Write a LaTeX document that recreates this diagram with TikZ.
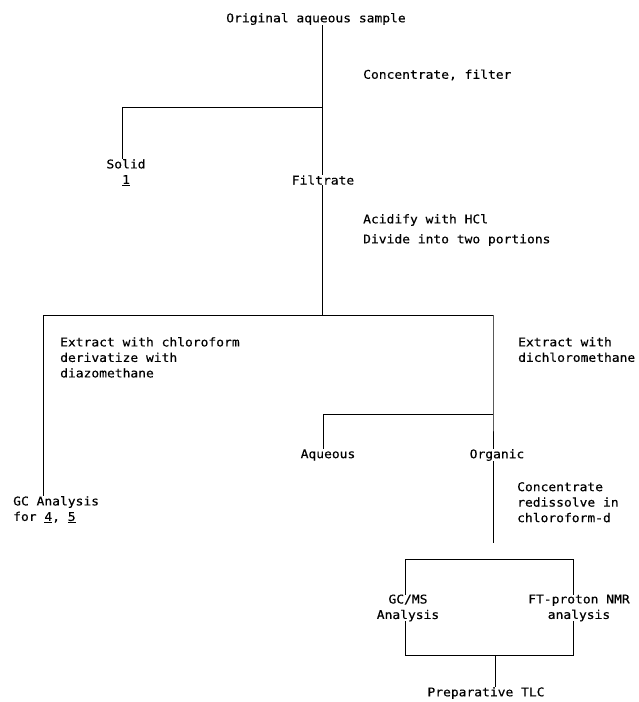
\documentclass[tikz,border=0pt]{standalone}
\usepackage{fontspec}
\newfontfamily\mono[FakeStretch=1.08,FakeBold=0.4]{DejaVu Sans Mono}
\begin{document}
\begin{tikzpicture}[x=1pt,y=-1pt,
  lbl/.style={inner sep=0pt, font=\mono\fontsize{12}{15.5}\selectfont, align=left},
  ln/.style={line width=1pt}]
\useasboundingbox (0,0) rectangle (638,702);
\node[lbl] (orig) at (316,19) {Original aqueous sample};
\node[lbl,anchor=west] (t1) at (363,75) {Concentrate, filter};
\coordinate (j1) at (322,107);
\coordinate (j1l) at (122,107);
\node[lbl,align=center,anchor=north] (solid) at (126,159) {Solid\\\underline{1}};
\node[lbl] (filt) at (323,180) {Filtrate};
\node[lbl,anchor=west] (t2) at (363,220) {Acidify with HCl};
\node[lbl,anchor=west] (t3) at (363,240) {Divide into two portions};
\coordinate (j2) at (322,315);
\coordinate (j2l) at (43,315);
\coordinate (j2r) at (493,315);
\node[lbl,anchor=north west] (t4) at (60,337) {Extract with chloroform\\derivatize with\\diazomethane};
\node[lbl,anchor=north west] (t5) at (518,337) {Extract with\\dichloromethane};
\node[lbl,anchor=north west] (gc) at (13,496) {GC Analysis\\for \underline{4}, \underline{5}};
\coordinate (j3) at (493,414);
\coordinate (j3l) at (323,414);
\node[lbl] (aq) at (328,455) {Aqueous};
\node[lbl] (org) at (497,455) {Organic};
\node[lbl,anchor=north west] (t6) at (517,482) {Concentrate\\redissolve in\\chloroform-d};
\coordinate (c4) at (493,543);
\coordinate (bnw) at (405,559);
\coordinate (bse) at (573,655);
\coordinate (bb) at (495,655);
\draw[ln] (bnw) rectangle (bse);
\node[lbl,align=center,fill=white] (gcms) at (408,608) {GC/MS\\Analysis};
\node[lbl,align=center,fill=white] (ft) at (579,608) {FT-proton NMR\\analysis};
\node[lbl] (tlc) at (486,693) {Preparative TLC};
\draw[ln] (orig.south -| j1) -- (filt.north -| j1);
\draw[ln] (j1) -- (j1l) -- (solid.north -| j1l);
\draw[ln] (filt.south -| j2) -- (j2);
\draw[ln] (j2l) -- (j2r);
\draw[ln] (j2l) -- (gc.north -| j2l);
\draw[ln] (j2r) -- (j3) -- (org.north -| j3);
\draw[ln] (j3) -- (j3l) -- (aq.north -| j3l);
\draw[ln] (org.south -| j3) -- (c4);
\draw[ln] (bb) -- (tlc.north -| bb);
\end{tikzpicture}
\end{document}
